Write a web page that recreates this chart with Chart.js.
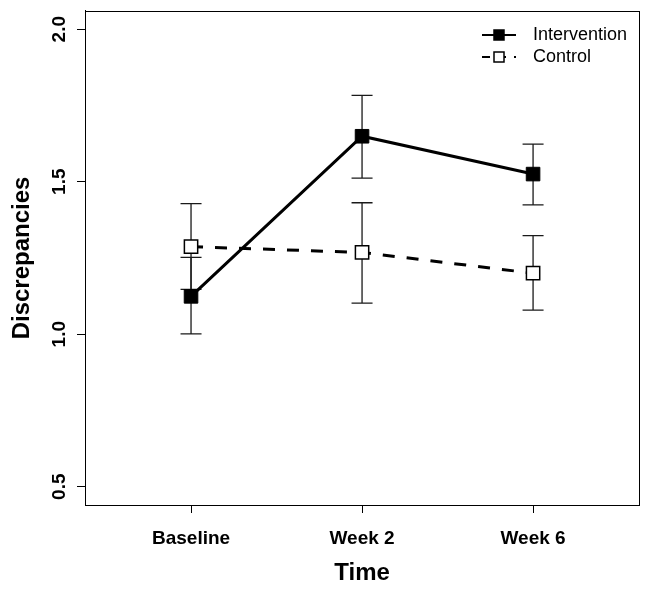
<!DOCTYPE html>
<html><head><meta charset="utf-8">
<script src="https://cdn.jsdelivr.net/npm/chart.js@4.4.1/dist/chart.umd.min.js"></script>
<style>html,body{margin:0;padding:0;background:#fff}#wrap{width:650px;height:590px}</style>
</head><body><div id="wrap"><canvas id="c" width="650" height="590"></canvas></div>
<script>
const timeLabels = ['Baseline', 'Week 2', 'Week 6'];
const timePositions = [1, 2, 3];
const interventionMean = [1.124, 1.649, 1.525];
const interventionLower = [1.001, 1.512, 1.424];
const interventionUpper = [1.252, 1.783, 1.623];
const controlMean = [1.287, 1.268, 1.200];
const controlLower = [1.147, 1.102, 1.079];
const controlUpper = [1.428, 1.431, 1.323];
const yTicks = [0.5, 1.0, 1.5, 2.0];
const seriesNames = ['Intervention', 'Control'];

const FONT = "'Liberation Sans', Arial, sans-serif";

const errorBarPlugin = {
  id: 'errorBars',
  beforeDatasetsDraw(chart) {
    const {ctx, scales: {x, y}} = chart;
    const groups = [[interventionLower, interventionUpper], [controlLower, controlUpper]];
    ctx.save();
    ctx.strokeStyle = '#1a1a1a';
    ctx.lineWidth = 1.3;
    groups.forEach(([lo, hi]) => {
      timePositions.forEach((t, i) => {
        const px = x.getPixelForValue(t);
        const y1 = y.getPixelForValue(lo[i]);
        const y2 = y.getPixelForValue(hi[i]);
        ctx.beginPath();
        ctx.moveTo(px, y1); ctx.lineTo(px, y2);
        ctx.moveTo(px - 10.5, y1); ctx.lineTo(px + 10.5, y1);
        ctx.moveTo(px - 10.5, y2); ctx.lineTo(px + 10.5, y2);
        ctx.stroke();
      });
    });
    ctx.restore();
  }
};

const framePlugin = {
  id: 'frame',
  afterDraw(chart) {
    const {ctx, chartArea: a, scales: {y}} = chart;
    ctx.save();
    ctx.strokeStyle = '#000';
    ctx.lineWidth = 1;
    ctx.strokeRect(Math.round(a.left) + 0.5, Math.round(a.top) + 0.5, Math.round(a.right - a.left), Math.round(a.bottom - a.top));
    // rotated y tick labels
    ctx.fillStyle = '#000';
    ctx.font = 'bold 19px ' + FONT;
    ctx.textAlign = 'center';
    ctx.textBaseline = 'middle';
    yTicks.forEach(v => {
      const py = y.getPixelForValue(v);
      ctx.save();
      ctx.translate(60, py);
      ctx.rotate(-Math.PI / 2);
      ctx.fillText(v.toFixed(1), 0, 0);
      ctx.restore();
    });
    // legend
    const ds = chart.data.datasets;
    const rows = [35, 57];
    ctx.font = '18px ' + FONT;
    ctx.textAlign = 'left';
    rows.forEach((ry, i) => {
      const d = ds[i];
      ctx.save();
      ctx.strokeStyle = '#000';
      ctx.lineWidth = 2;
      ctx.setLineDash(i === 0 ? [] : [8, 8]);
      ctx.beginPath();
      ctx.moveTo(482, ry); ctx.lineTo(516, ry);
      ctx.stroke();
      ctx.setLineDash([]);
      ctx.fillStyle = d.pointBackgroundColor;
      ctx.lineWidth = 1.5;
      ctx.fillRect(494, ry - 5, 10, 10);
      ctx.strokeRect(494, ry - 5, 10, 10);
      ctx.restore();
      ctx.fillStyle = '#000';
      ctx.fillText(d.label, 533, ry);
    });
    ctx.restore();
  }
};

new Chart(document.getElementById('c'), {
  type: 'line',
  data: {
    datasets: [
      {
        label: seriesNames[0],
        data: timePositions.map((t, i) => ({x: t, y: interventionMean[i]})),
        borderColor: '#000',
        borderWidth: 3,
        pointStyle: 'rect',
        pointRadius: 9.6,
        pointBackgroundColor: '#000',
        pointBorderColor: '#000',
        pointBorderWidth: 1,
        fill: false,
        tension: 0
      },
      {
        label: seriesNames[1],
        data: timePositions.map((t, i) => ({x: t, y: controlMean[i]})),
        borderColor: '#000',
        borderWidth: 3,
        borderDash: [12, 12],
        pointStyle: 'rect',
        pointRadius: 9.4,
        pointBackgroundColor: '#fff',
        pointBorderColor: '#000',
        pointBorderWidth: 1.5,
        fill: false,
        tension: 0
      }
    ]
  },
  options: {
    responsive: false,
    devicePixelRatio: 1,
    animation: false,
    layout: {padding: {left: 0, right: 10, top: 8, bottom: 0}},
    plugins: {legend: {display: false}, tooltip: {enabled: false}},
    scales: {
      x: {
        type: 'linear',
        min: 0.38,
        max: 3.62,
        afterBuildTicks: s => { s.ticks = timePositions.map(v => ({value: v})); },
        afterFit: s => { s.height = 85; },
        ticks: {
          callback: v => timeLabels[timePositions.indexOf(v)],
          font: {family: FONT, size: 19, weight: 'bold'},
          color: '#000',
          padding: 14,
          maxRotation: 0,
          autoSkip: false
        },
        grid: {drawOnChartArea: false, tickLength: 8, color: '#000', lineWidth: 1},
        border: {display: true, color: '#000'},
        title: {display: true, text: 'Time', font: {family: FONT, size: 24, weight: 'bold'}, color: '#000', padding: {top: 0, bottom: 2}}
      },
      y: {
        type: 'linear',
        min: 0.44,
        max: 2.06,
        afterBuildTicks: s => { s.ticks = yTicks.map(v => ({value: v})); },
        afterFit: s => { s.width = 85; },
        ticks: {display: false},
        grid: {drawOnChartArea: false, tickLength: 8, color: '#000', lineWidth: 1},
        border: {display: true, color: '#000'},
        title: {display: true, text: 'Discrepancies', font: {family: FONT, size: 24, weight: 'bold'}, color: '#000', padding: {top: 8, bottom: 0}}
      }
    }
  },
  plugins: [errorBarPlugin, framePlugin]
});
</script>
</body></html>
